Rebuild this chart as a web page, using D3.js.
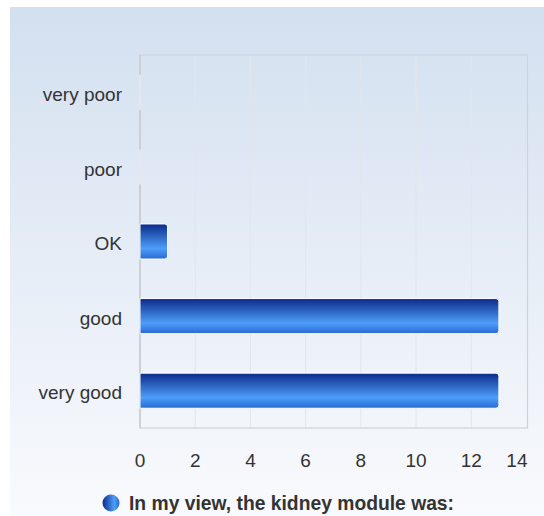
<!DOCTYPE html>
<html><head><meta charset="utf-8">
<script src="https://cdn.jsdelivr.net/npm/d3@7"></script>
<style>html,body{margin:0;padding:0;background:#fff;}svg{display:block;}</style>
</head><body>
<svg id="c" width="544" height="516"></svg>
<script>
const categories = ["very poor", "poor", "OK", "good", "very good"];
const values = [0, 0, 1, 13, 13];
const xTicks = [0, 2, 4, 6, 8, 10, 12, 14];
const seriesName = "In my view, the kidney module was:";

const svg = d3.select("#c");
const defs = svg.append("defs");
const bg = defs.append("linearGradient").attr("id","bg").attr("x1",0).attr("y1",0).attr("x2",0).attr("y2",1);
bg.append("stop").attr("offset","0%").attr("stop-color","#d3e0f0");
bg.append("stop").attr("offset","100%").attr("stop-color","#f9fafd");
const bar = defs.append("linearGradient").attr("id","bar").attr("x1",0).attr("y1",0).attr("x2",0).attr("y2",1);
bar.append("stop").attr("offset","0%").attr("stop-color","#0b2a8a");
bar.append("stop").attr("offset","70%").attr("stop-color","#4d9ef9");
bar.append("stop").attr("offset","100%").attr("stop-color","#2a68d6");
const lg = defs.append("linearGradient").attr("id","lg").attr("x1",0).attr("y1",0).attr("x2",1).attr("y2",0);
lg.append("stop").attr("offset","0%").attr("stop-color","#0b2a8a");
lg.append("stop").attr("offset","70%").attr("stop-color","#4d9ef9");
lg.append("stop").attr("offset","100%").attr("stop-color","#2a68d6");

svg.append("rect").attr("x",10).attr("y",7).attr("width",534).attr("height",509).attr("fill","url(#bg)");

const L = 140, R = 526.5, T = 55, B = 428;
const x = d3.scaleLinear().domain([0, 14]).range([L, R]);
const y = d3.scaleBand().domain(categories).range([T, B]).paddingInner(0.53).paddingOuter(0.265);
const FONT = "Liberation Sans, Arial, sans-serif";

// grid
svg.append("g").selectAll("line").data(xTicks.slice(1, -1)).join("line")
  .attr("x1", d => x(d)).attr("x2", d => x(d)).attr("y1", T).attr("y2", B)
  .attr("stroke", "#e2e6ec").attr("stroke-width", 1);
svg.append("rect").attr("x", L).attr("y", T).attr("width", R + 1 - L).attr("height", B - T)
  .attr("fill", "none").attr("stroke", "#cfd3d9").attr("stroke-width", 1.2);
svg.append("line").attr("x1", L).attr("x2", L).attr("y1", T).attr("y2", B)
  .attr("stroke", "#c8ccd2").attr("stroke-width", 1.5);

// bars
const r = 3;
svg.append("g").selectAll("path").data(categories).join("path")
  .attr("d", (c, i) => {
    const x0 = x(0), x1 = x(values[i]), y0 = y(c), h = y.bandwidth();
    const w = x1 - x0;
    if (w <= 0) return `M${x0},${y0}V${y0 + h}`;
    const rr = Math.min(r, w);
    return `M${x0},${y0}H${x1 - rr}Q${x1},${y0} ${x1},${y0 + rr}V${y0 + h - rr}Q${x1},${y0 + h} ${x1 - rr},${y0 + h}H${x0}Z`;
  })
  .attr("fill", "url(#bar)").attr("stroke", "#ffffff").attr("stroke-width", 1);

// category labels
svg.append("g").selectAll("text").data(categories).join("text")
  .attr("x", 122).attr("y", c => y(c) + y.bandwidth() / 2 + 2).attr("dy", "0.35em")
  .attr("text-anchor", "end").attr("font-family", FONT)
  .attr("font-size", 19).attr("fill", "#333").text(c => c);

// x axis labels
svg.append("g").selectAll("text").data(xTicks).join("text")
  .attr("x", (d, i) => i === xTicks.length - 1 ? R + 1 : x(d)).attr("y", 460).attr("dy", "0.35em")
  .attr("text-anchor", (d, i) => i === xTicks.length - 1 ? "end" : "middle").attr("font-family", FONT)
  .attr("font-size", 19).attr("fill", "#333").text(d => d);

// legend
svg.append("circle").attr("cx", 111).attr("cy", 503).attr("r", 8.5).attr("fill", "url(#lg)");
svg.append("text").attr("x", 129).attr("y", 503).attr("dy", "0.35em")
  .attr("font-family", FONT).attr("font-weight", "bold")
  .attr("font-size", 19.3).attr("fill", "#333").text(seriesName);
</script>
</body></html>
